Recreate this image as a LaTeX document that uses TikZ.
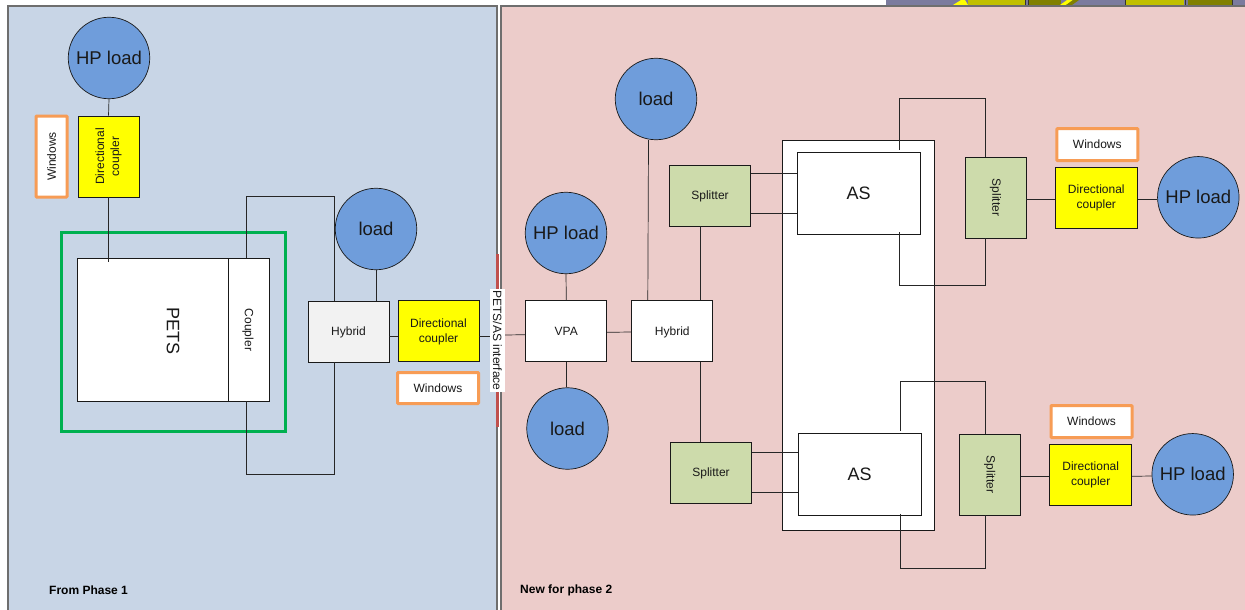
\documentclass[tikz,border=0pt]{standalone}
\usepackage{fontspec}
\setmainfont{Liberation Sans}
\definecolor{panelblue}{HTML}{C8D5E6}
\definecolor{panelred}{HTML}{ECCCCA}
\definecolor{paneledge}{HTML}{6E6E6E}
\definecolor{loadblue}{HTML}{6F9DDB}
\definecolor{splitgreen}{HTML}{CDDBAB}
\definecolor{winorange}{HTML}{F79C55}
\definecolor{petsgreen}{HTML}{00B050}
\definecolor{barred}{HTML}{C0504D}
\definecolor{stripgray}{HTML}{7B7B9E}
\definecolor{stripyellow}{HTML}{C0C000}
\definecolor{stripolive}{HTML}{808000}
\definecolor{dcyellow}{HTML}{FFFF00}
\newcommand{\lowertext}[2][1pt]{\raisebox{-#1}[\height][\depth]{#2}}
\newcommand{\dclabel}{\lowertext[.7pt]{\begin{tabular}{@{}c@{}}Directional\\coupler\end{tabular}}}
\tikzset{
  panel/.style={draw=paneledge,line width=1.1pt},
  base/.style={draw=black!90,line width=.7pt,inner sep=0pt,align=center,font=\fontsize{12}{15}\selectfont,text=black!90},
  loadnode/.style={base,circle,fill=loadblue,minimum size=81.5pt,font=\fontsize{18.5}{22}\selectfont},
  whitebox/.style={base,fill=white,minimum width=81pt,minimum height=61pt},
  splitbox/.style={base,fill=splitgreen},
  dcbox/.style={base,fill=dcyellow},
  winbox/.style={base,fill=white,draw=winorange,line width=3pt,rounded corners=.8pt},
  asbox/.style={base,fill=white,minimum width=123pt,minimum height=82pt,font=\fontsize{18}{22}\selectfont},
  wire/.style={draw=black!85,line width=.7pt},
  caption/.style={inner sep=0pt,anchor=west,font=\bfseries\fontsize{12}{14}\selectfont}
}
\begin{document}
\begin{tikzpicture}[x=1pt,y=-1pt]
\useasboundingbox (0,0) rectangle (1245,610);
% background strip at the top right
\fill[stripgray] (886,0) rectangle (1245,5);
\fill[stripyellow] (968,0) rectangle (1025,5);
\fill[stripolive] (1029,0) rectangle (1061,5);
\fill[stripyellow] (1125,0) rectangle (1184,5);
\fill[stripolive] (1188,0) rectangle (1232,5);
\fill[dcyellow] (953,5) -- (961,0) -- (965,0) -- (968,5) -- cycle;
\fill[dcyellow] (1060,5) -- (1067,0) -- (1073,0) -- (1066,5) -- cycle;
\fill[stripolive] (1066,5) -- (1073,0) -- (1079,0) -- (1072,5) -- cycle;
\draw[black!80,line width=.6pt] (1025.5,0) -- (1025.5,5) (1028.5,0) -- (1028.5,5) (1125,0) -- (1125,5) (1185.5,0) -- (1185.5,5) (1232.5,0) -- (1232.5,5);
% panels
\draw[panel,fill=panelblue] (8,6) rectangle (497,620);
\draw[panel,fill=panelred] (501,6) rectangle (1255,620);
\draw[barred,line width=3pt] (497,254) -- (497,427);
\node[caption] (fromone) at (49,590.5) {From Phase 1};
\node[caption] (newtwo) at (520,590.5) {New for phase 2};
% left group
\node[draw=petsgreen,line width=3pt,minimum width=224pt,minimum height=199pt,inner sep=0pt] (greenframe) at (173,331.5) {};
\node[base,fill=white,minimum width=151pt,minimum height=143pt] (pets) at (152.5,329.5) {};
\node[rotate=-90,font=\fontsize{18}{22}\selectfont,text=black!90,inner sep=0pt] (petslabel) at (173,331) {PETS};
\node[base,fill=white,minimum width=41pt,minimum height=143pt] (coupler) at (248.5,329.5) {};
\node[rotate=-90,font=\fontsize{12}{14}\selectfont,text=black!90,inner sep=0pt] (couplerlabel) at (248,330) {Coupler};
\node[loadnode] (hpa) at (109,58) {HP load};
\node[dcbox,minimum width=61pt,minimum height=81pt] (dca) at (108.5,156.5) {\rotatebox{90}{\begin{tabular}{@{}c@{}}Directional\\coupler\end{tabular}}};
\node[winbox,minimum width=31pt,minimum height=81pt] (wina) at (51.5,156.5) {\rotatebox{90}{Windows}};
\node[base,fill=black!5,minimum width=81pt,minimum height=61pt] (hybl) at (348.5,331.5) {\lowertext{Hybrid}};
\node[loadnode] (loadl) at (376,229) {load};
\node[dcbox,minimum width=81pt,minimum height=61pt] (dcb) at (438.5,331) {\dclabel};
\node[winbox,minimum width=81pt,minimum height=31pt] (winb) at (438,388) {Windows};
\draw[wire] (hpa.south) -- (dca.north);
\draw[wire] (dca.south) -- ([yshift=-4pt]pets.north -| dca.south);
\draw[wire] ([xshift=-1.8pt]coupler.north) -- ++(0,-61) -| ([xshift=-14.5pt]hybl.north);
\draw[wire] ([xshift=-1.8pt]coupler.south) -- ++(0,73) -| ([xshift=-14.5pt]hybl.south);
\draw[wire] (loadl.south) -- (loadl.south |- hybl.north);
\draw[wire] ([yshift=-4.5pt]hybl.east) -- ([yshift=-5pt]dcb.west);
% right group
\node[base,fill=white,minimum width=152pt,minimum height=390pt] (asframe) at (858,335) {};
\node[whitebox] (vpa) at (566.3,331) {\lowertext[.5pt]{VPA}};
\node[whitebox] (hybr) at (672.3,331) {\lowertext{Hybrid}};
\node[loadnode] (hpb) at (566,233) {HP load};
\node[loadnode] (loadb) at (567.5,428.5) {load};
\node[loadnode] (loadt) at (656,99) {load};
\node[splitbox,minimum width=81pt,minimum height=61pt] (spa) at (710,195.5) {\lowertext{Splitter}};
\node[splitbox,minimum width=81pt,minimum height=61pt] (spb) at (711,472.5) {\lowertext{Splitter}};
\node[asbox] (asa) at (858.5,193) {AS};
\node[asbox] (asb) at (859.5,474.5) {AS};
\node[splitbox,minimum width=61pt,minimum height=81pt] (spc) at (995.5,197.5) {\rotatebox{-90}{Splitter}};
\node[splitbox,minimum width=61pt,minimum height=81pt] (spd) at (989.7,474.5) {\rotatebox{-90}{Splitter}};
\node[dcbox,minimum width=82pt,minimum height=61pt] (dcc) at (1096.3,197.5) {\dclabel};
\node[dcbox,minimum width=82pt,minimum height=61pt] (dcd) at (1090.7,474.7) {\dclabel};
\node[winbox,minimum width=81pt,minimum height=32pt] (winc) at (1097.3,144.6) {Windows};
\node[winbox,minimum width=81pt,minimum height=32pt] (wind) at (1091.5,421.5) {Windows};
\node[loadnode] (hpc) at (1198.3,197.3) {HP load};
\node[loadnode] (hpd) at (1192.7,474.3) {HP load};
\node[rotate=-90,fill=white,inner xsep=1pt,inner ysep=0pt,minimum height=15pt,font=\fontsize{12}{14}\selectfont,text=black!90] (iface) at (497.5,340.5) {PETS/AS interface};
\draw[wire] ([yshift=-5pt]dcb.east) -- ([yshift=-5pt]dcb.east -| iface.south);
\draw[wire] ([yshift=5.5pt]iface.north) -- ([yshift=-3.7pt]vpa.west);
\draw[wire] (hpb.south) -- (vpa.north);
\draw[wire] (vpa.south) -- (loadb.north -| vpa.south);
\draw[wire] ([yshift=-1.3pt]vpa.east) -- ([yshift=-1pt]hybr.west);
\coordinate (hybrtop) at ([xshift=28.4pt]hybr.north);
\coordinate (hybrbot) at ([xshift=28.4pt]hybr.south);
\draw[wire] ([xshift=-24.5pt]hybr.north) -- ([xshift=-7.5pt]loadt.south);
\draw[wire] (hybrtop) -- (hybrtop |- spa.south);
\draw[wire] (hybrbot) -- (hybrbot |- spb.north);
\draw[wire] ([yshift=22.5pt]spa.east) -- ([yshift=22.5pt]spa.east -| asa.west);
\draw[wire] ([yshift=-18pt]spa.east) -- ([yshift=-18pt]spa.east -| asa.west);
\draw[wire] ([yshift=20pt]spb.east) -- ([yshift=20pt]spb.east -| asb.west);
\draw[wire] ([yshift=-20pt]spb.east) -- ([yshift=-20pt]spb.east -| asb.west);
\draw[wire] ([xshift=40.5pt,yshift=2pt]asa.north) -- ++(0,-51) -| ([xshift=-9.8pt]spc.north);
\draw[wire] ([xshift=40.5pt,yshift=2pt]asa.south) -- ++(0,53) -| ([xshift=-9.8pt]spc.south);
\draw[wire] ([xshift=40.5pt,yshift=2pt]asb.north) -- ++(0,-50) -| ([xshift=-4pt]spd.north);
\draw[wire] ([xshift=40.5pt,yshift=2pt]asb.south) -- ++(0,54) -| ([xshift=-4pt]spd.south);
\draw[wire] ([yshift=-1.8pt]spc.east) -- ([yshift=-1.8pt]spc.east -| dcc.west);
\draw[wire] ([yshift=-1.5pt]dcc.east) -- ([yshift=-1.7pt]hpc.west);
\draw[wire] ([yshift=-1.8pt]spd.east) -- ([yshift=-1.8pt]spd.east -| dcd.west);
\draw[wire] ([yshift=-1.6pt]dcd.east) -- ([yshift=-1.7pt]hpd.west);
\end{tikzpicture}
\end{document}
